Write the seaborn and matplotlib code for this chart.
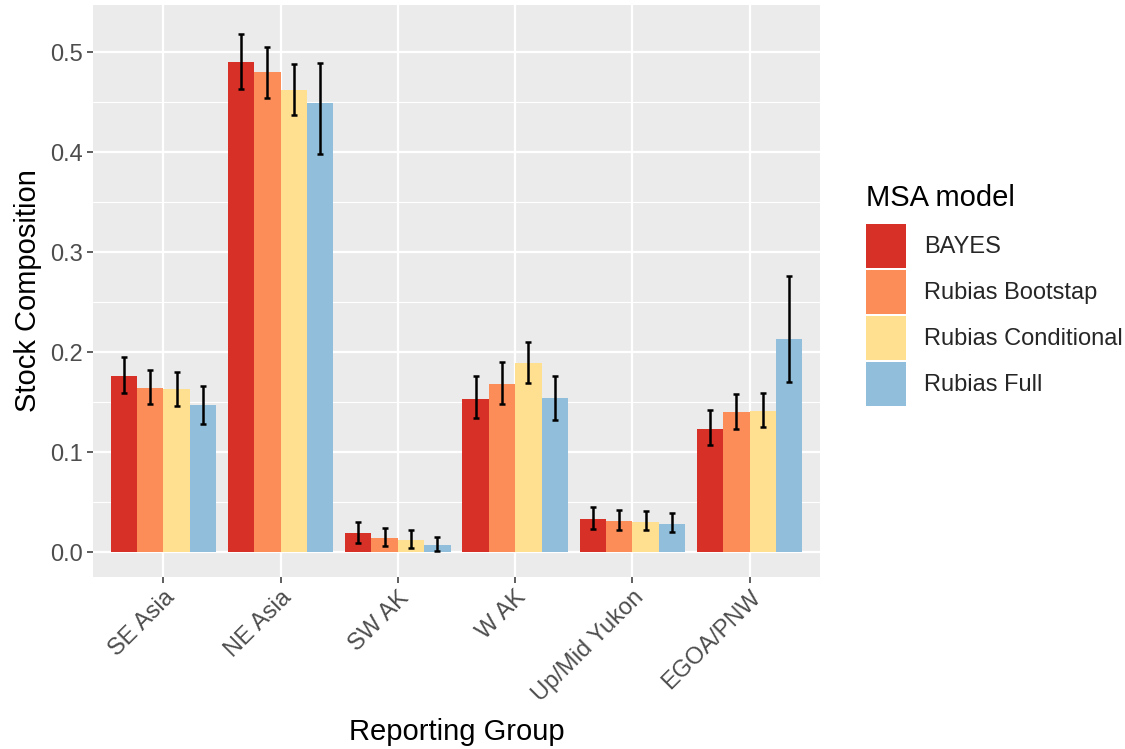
import numpy as np
import pandas as pd
import matplotlib
matplotlib.use("Agg")
import matplotlib.pyplot as plt
from matplotlib.patches import Patch
from matplotlib.ticker import MultipleLocator
import seaborn as sns

groups = ["SE Asia", "NE Asia", "SW AK", "W AK", "Up/Mid Yukon", "EGOA/PNW"]
models = ["BAYES", "Rubias Bootstap", "Rubias Conditional", "Rubias Full"]

bayes_mean = [0.176, 0.490, 0.019, 0.153, 0.033, 0.123]
bayes_lo   = [0.159, 0.463, 0.009, 0.134, 0.023, 0.107]
bayes_hi   = [0.195, 0.518, 0.030, 0.176, 0.045, 0.142]

boot_mean = [0.164, 0.480, 0.014, 0.168, 0.031, 0.140]
boot_lo   = [0.148, 0.454, 0.006, 0.148, 0.022, 0.123]
boot_hi   = [0.182, 0.505, 0.024, 0.190, 0.042, 0.158]

cond_mean = [0.163, 0.462, 0.012, 0.189, 0.030, 0.141]
cond_lo   = [0.146, 0.437, 0.004, 0.169, 0.022, 0.125]
cond_hi   = [0.180, 0.488, 0.022, 0.210, 0.041, 0.159]

full_mean = [0.147, 0.449, 0.007, 0.154, 0.028, 0.213]
full_lo   = [0.128, 0.398, 0.001, 0.132, 0.020, 0.170]
full_hi   = [0.166, 0.489, 0.015, 0.176, 0.039, 0.276]

palette = ["#D73027", "#FC8D59", "#FEE090", "#91BFDB"]

means = [bayes_mean, boot_mean, cond_mean, full_mean]
los = [bayes_lo, boot_lo, cond_lo, full_lo]
his = [bayes_hi, boot_hi, cond_hi, full_hi]

rows = []
for m, mv, lv, hv in zip(models, means, los, his):
    for g, v, lo, hi in zip(groups, mv, lv, hv):
        rows.append({"group": g, "model": m, "value": v, "lo": lo, "hi": hi})
df = pd.DataFrame(rows)

sns.set_theme(style="darkgrid")
plt.rcParams["font.family"] = ["Liberation Sans", "DejaVu Sans"]

fig = plt.figure(figsize=(11.25, 7.49), dpi=100)
ax = fig.add_axes([93 / 1125, 1 - 577 / 749, (820 - 93) / 1125, (577 - 5) / 749])
ax.set_facecolor("#EBEBEB")

sns.barplot(data=df, x="group", y="value", hue="model", order=groups,
            hue_order=models, palette=palette, width=0.9, gap=0,
            errorbar=None, saturation=1, edgecolor="none", legend=False, ax=ax)

# asymmetric interval bars on each bar centre
for cont, m in zip(ax.containers, models):
    sub = df[df["model"] == m].set_index("group").loc[groups]
    xs = [p.get_x() + p.get_width() / 2 for p in cont.patches]
    yerr = np.vstack([sub["value"] - sub["lo"], sub["hi"] - sub["value"]])
    ax.errorbar(xs, sub["value"], yerr=yerr, fmt="none", ecolor="black",
                elinewidth=1.8, capsize=2.5, capthick=1.8, zorder=5)

ax.set_xlim(-0.6, len(groups) - 0.4)
ax.set_ylim(-0.0247, 0.5475)
ax.yaxis.set_major_locator(MultipleLocator(0.1))
ax.yaxis.set_minor_locator(MultipleLocator(0.05))
ax.set_yticks([0.0, 0.1, 0.2, 0.3, 0.4, 0.5])
ax.set_yticklabels(["0.0", "0.1", "0.2", "0.3", "0.4", "0.5"])
ax.grid(which="major", color="white", linewidth=1.6)
ax.grid(which="minor", axis="y", color="white", linewidth=0.8)
ax.set_axisbelow(True)
for s in ax.spines.values():
    s.set_visible(False)

ax.tick_params(axis="both", which="major", length=4, width=1.1, color="#333333",
               labelsize=17, labelcolor="#4D4D4D", pad=3, bottom=True, left=True)
ax.tick_params(axis="both", which="minor", length=0)
plt.setp(ax.get_xticklabels(), rotation=45, ha="right", rotation_mode="anchor")

ax.set_xlabel("Reporting Group", fontsize=21, color="black", labelpad=8)
ax.set_ylabel("Stock Composition", fontsize=21, color="black", labelpad=6)

handles = [Patch(facecolor=c, edgecolor="none") for c in palette]
leg = ax.legend(handles, models, title="MSA model", loc="center left",
                bbox_to_anchor=(866 / 1125, 1 - 295 / 749),
                bbox_transform=fig.transFigure, frameon=False, fontsize=17,
                title_fontsize=21, handlelength=1.7, handleheight=2.49,
                labelspacing=0.085, handletextpad=0.75, borderpad=0,
                borderaxespad=0, alignment="left")
leg.get_title().set_color("black")
# extra room between the legend title and the keys
leg._legend_box.sep = 8.5

fig.savefig("out.png", dpi=100, facecolor="white")
